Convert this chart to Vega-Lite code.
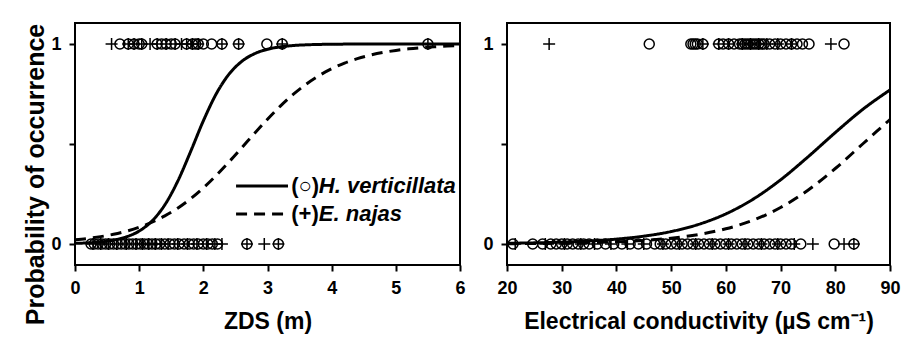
{
  "$schema": "https://vega.github.io/schema/vega-lite/v6.json",
  "padding": {"left": 22, "top": 22, "right": 10, "bottom": 2},
  "background": "white",
  "config": {
    "font": "Liberation Sans",
    "view": {"stroke": "black", "strokeWidth": 2},
    "concat": {"spacing": 14},
    "axis": {
      "domain": false, "grid": false,
      "tickColor": "black", "tickWidth": 2, "tickSize": 6,
      "labelFont": "Liberation Sans", "labelFontWeight": "bold", "labelFontSize": 18, "labelColor": "black",
      "labelPadding": 8, "labelFlush": false, "labelOverlap": false,
      "titleFont": "Liberation Sans", "titleFontWeight": "bold", "titleFontSize": 23, "titleColor": "black"
    }
  },
  "datasets": {
    "ptsL": [
      {"x": 0.70, "y": 1, "sp": "H"}, {"x": 0.83, "y": 1, "sp": "H"}, {"x": 0.92, "y": 1, "sp": "H"}, {"x": 1.00, "y": 1, "sp": "H"}, {"x": 1.04, "y": 1, "sp": "H"},
      {"x": 1.28, "y": 1, "sp": "H"}, {"x": 1.35, "y": 1, "sp": "H"}, {"x": 1.42, "y": 1, "sp": "H"}, {"x": 1.50, "y": 1, "sp": "H"}, {"x": 1.56, "y": 1, "sp": "H"},
      {"x": 1.74, "y": 1, "sp": "H"}, {"x": 1.83, "y": 1, "sp": "H"}, {"x": 1.88, "y": 1, "sp": "H"}, {"x": 1.92, "y": 1, "sp": "H"}, {"x": 2.00, "y": 1, "sp": "H"},
      {"x": 2.13, "y": 1, "sp": "H"}, {"x": 2.29, "y": 1, "sp": "H"}, {"x": 2.55, "y": 1, "sp": "H"}, {"x": 2.99, "y": 1, "sp": "H"}, {"x": 3.23, "y": 1, "sp": "H"}, {"x": 5.50, "y": 1, "sp": "H"},
      {"x": 0.57, "y": 1, "sp": "E"}, {"x": 0.83, "y": 1, "sp": "E"}, {"x": 0.92, "y": 1, "sp": "E"}, {"x": 1.04, "y": 1, "sp": "E"}, {"x": 1.17, "y": 1, "sp": "E"},
      {"x": 1.28, "y": 1, "sp": "E"}, {"x": 1.42, "y": 1, "sp": "E"}, {"x": 1.56, "y": 1, "sp": "E"}, {"x": 1.66, "y": 1, "sp": "E"}, {"x": 1.74, "y": 1, "sp": "E"},
      {"x": 1.83, "y": 1, "sp": "E"}, {"x": 1.92, "y": 1, "sp": "E"}, {"x": 2.29, "y": 1, "sp": "E"}, {"x": 2.55, "y": 1, "sp": "E"}, {"x": 3.23, "y": 1, "sp": "E"}, {"x": 5.50, "y": 1, "sp": "E"},
      {"x": 0.25, "y": 0, "sp": "H"}, {"x": 0.30, "y": 0, "sp": "H"}, {"x": 0.36, "y": 0, "sp": "H"}, {"x": 0.42, "y": 0, "sp": "H"}, {"x": 0.48, "y": 0, "sp": "H"},
      {"x": 0.54, "y": 0, "sp": "H"}, {"x": 0.60, "y": 0, "sp": "H"}, {"x": 0.66, "y": 0, "sp": "H"}, {"x": 0.72, "y": 0, "sp": "H"}, {"x": 0.78, "y": 0, "sp": "H"},
      {"x": 0.84, "y": 0, "sp": "H"}, {"x": 0.90, "y": 0, "sp": "H"}, {"x": 0.96, "y": 0, "sp": "H"}, {"x": 1.02, "y": 0, "sp": "H"}, {"x": 1.08, "y": 0, "sp": "H"},
      {"x": 1.14, "y": 0, "sp": "H"}, {"x": 1.20, "y": 0, "sp": "H"}, {"x": 1.26, "y": 0, "sp": "H"}, {"x": 1.32, "y": 0, "sp": "H"}, {"x": 1.40, "y": 0, "sp": "H"},
      {"x": 1.48, "y": 0, "sp": "H"}, {"x": 1.55, "y": 0, "sp": "H"}, {"x": 1.62, "y": 0, "sp": "H"}, {"x": 1.70, "y": 0, "sp": "H"}, {"x": 1.78, "y": 0, "sp": "H"},
      {"x": 1.85, "y": 0, "sp": "H"}, {"x": 1.92, "y": 0, "sp": "H"}, {"x": 2.00, "y": 0, "sp": "H"}, {"x": 2.07, "y": 0, "sp": "H"}, {"x": 2.14, "y": 0, "sp": "H"},
      {"x": 2.22, "y": 0, "sp": "H"}, {"x": 2.68, "y": 0, "sp": "H"}, {"x": 3.17, "y": 0, "sp": "H"},
      {"x": 0.28, "y": 0, "sp": "E"}, {"x": 0.40, "y": 0, "sp": "E"}, {"x": 0.52, "y": 0, "sp": "E"}, {"x": 0.65, "y": 0, "sp": "E"}, {"x": 0.80, "y": 0, "sp": "E"},
      {"x": 0.95, "y": 0, "sp": "E"}, {"x": 1.05, "y": 0, "sp": "E"}, {"x": 1.15, "y": 0, "sp": "E"}, {"x": 1.25, "y": 0, "sp": "E"}, {"x": 1.35, "y": 0, "sp": "E"},
      {"x": 1.45, "y": 0, "sp": "E"}, {"x": 1.60, "y": 0, "sp": "E"}, {"x": 1.75, "y": 0, "sp": "E"}, {"x": 1.90, "y": 0, "sp": "E"}, {"x": 2.05, "y": 0, "sp": "E"},
      {"x": 2.18, "y": 0, "sp": "E"}, {"x": 2.29, "y": 0, "sp": "E"}, {"x": 2.68, "y": 0, "sp": "E"}, {"x": 2.95, "y": 0, "sp": "E"}, {"x": 3.17, "y": 0, "sp": "E"}
    ],
    "ptsR": [
      {"x": 46.0, "y": 1, "sp": "H"}, {"x": 53.6, "y": 1, "sp": "H"}, {"x": 54.0, "y": 1, "sp": "H"}, {"x": 54.4, "y": 1, "sp": "H"}, {"x": 54.8, "y": 1, "sp": "H"},
      {"x": 55.8, "y": 1, "sp": "H"}, {"x": 58.7, "y": 1, "sp": "H"}, {"x": 59.5, "y": 1, "sp": "H"}, {"x": 60.5, "y": 1, "sp": "H"}, {"x": 61.5, "y": 1, "sp": "H"},
      {"x": 62.5, "y": 1, "sp": "H"}, {"x": 63.0, "y": 1, "sp": "H"}, {"x": 63.5, "y": 1, "sp": "H"}, {"x": 64.0, "y": 1, "sp": "H"}, {"x": 64.5, "y": 1, "sp": "H"},
      {"x": 65.0, "y": 1, "sp": "H"}, {"x": 65.5, "y": 1, "sp": "H"}, {"x": 66.0, "y": 1, "sp": "H"}, {"x": 66.5, "y": 1, "sp": "H"}, {"x": 67.0, "y": 1, "sp": "H"},
      {"x": 68.0, "y": 1, "sp": "H"}, {"x": 69.0, "y": 1, "sp": "H"}, {"x": 70.0, "y": 1, "sp": "H"}, {"x": 71.0, "y": 1, "sp": "H"}, {"x": 72.0, "y": 1, "sp": "H"},
      {"x": 73.0, "y": 1, "sp": "H"}, {"x": 74.0, "y": 1, "sp": "H"}, {"x": 75.2, "y": 1, "sp": "H"}, {"x": 81.6, "y": 1, "sp": "H"},
      {"x": 27.7, "y": 1, "sp": "E"}, {"x": 55.8, "y": 1, "sp": "E"}, {"x": 58.7, "y": 1, "sp": "E"}, {"x": 60.5, "y": 1, "sp": "E"}, {"x": 63.0, "y": 1, "sp": "E"},
      {"x": 64.5, "y": 1, "sp": "E"}, {"x": 66.0, "y": 1, "sp": "E"}, {"x": 67.5, "y": 1, "sp": "E"}, {"x": 69.5, "y": 1, "sp": "E"}, {"x": 72.0, "y": 1, "sp": "E"}, {"x": 79.2, "y": 1, "sp": "E"},
      {"x": 21.1, "y": 0, "sp": "H"}, {"x": 24.7, "y": 0, "sp": "H"}, {"x": 26.5, "y": 0, "sp": "H"}, {"x": 28.0, "y": 0, "sp": "H"}, {"x": 29.0, "y": 0, "sp": "H"},
      {"x": 30.0, "y": 0, "sp": "H"}, {"x": 31.0, "y": 0, "sp": "H"}, {"x": 32.0, "y": 0, "sp": "H"}, {"x": 33.0, "y": 0, "sp": "H"}, {"x": 34.0, "y": 0, "sp": "H"},
      {"x": 35.0, "y": 0, "sp": "H"}, {"x": 36.5, "y": 0, "sp": "H"}, {"x": 38.0, "y": 0, "sp": "H"}, {"x": 39.5, "y": 0, "sp": "H"}, {"x": 41.0, "y": 0, "sp": "H"},
      {"x": 42.5, "y": 0, "sp": "H"}, {"x": 44.0, "y": 0, "sp": "H"}, {"x": 45.5, "y": 0, "sp": "H"}, {"x": 47.0, "y": 0, "sp": "H"}, {"x": 48.0, "y": 0, "sp": "H"},
      {"x": 49.0, "y": 0, "sp": "H"}, {"x": 50.0, "y": 0, "sp": "H"}, {"x": 51.0, "y": 0, "sp": "H"}, {"x": 52.0, "y": 0, "sp": "H"}, {"x": 53.0, "y": 0, "sp": "H"},
      {"x": 54.0, "y": 0, "sp": "H"}, {"x": 55.0, "y": 0, "sp": "H"}, {"x": 56.0, "y": 0, "sp": "H"}, {"x": 57.0, "y": 0, "sp": "H"}, {"x": 58.0, "y": 0, "sp": "H"},
      {"x": 59.0, "y": 0, "sp": "H"}, {"x": 60.0, "y": 0, "sp": "H"}, {"x": 61.0, "y": 0, "sp": "H"}, {"x": 62.0, "y": 0, "sp": "H"}, {"x": 63.0, "y": 0, "sp": "H"},
      {"x": 64.0, "y": 0, "sp": "H"}, {"x": 65.0, "y": 0, "sp": "H"}, {"x": 66.0, "y": 0, "sp": "H"}, {"x": 67.0, "y": 0, "sp": "H"}, {"x": 68.0, "y": 0, "sp": "H"},
      {"x": 69.0, "y": 0, "sp": "H"}, {"x": 70.0, "y": 0, "sp": "H"}, {"x": 71.0, "y": 0, "sp": "H"}, {"x": 72.0, "y": 0, "sp": "H"}, {"x": 73.7, "y": 0, "sp": "H"},
      {"x": 79.8, "y": 0, "sp": "H"}, {"x": 83.4, "y": 0, "sp": "H"},
      {"x": 21.5, "y": 0, "sp": "E"}, {"x": 27.0, "y": 0, "sp": "E"}, {"x": 30.5, "y": 0, "sp": "E"}, {"x": 33.5, "y": 0, "sp": "E"}, {"x": 36.0, "y": 0, "sp": "E"},
      {"x": 39.0, "y": 0, "sp": "E"}, {"x": 42.0, "y": 0, "sp": "E"}, {"x": 45.0, "y": 0, "sp": "E"}, {"x": 48.5, "y": 0, "sp": "E"}, {"x": 51.5, "y": 0, "sp": "E"},
      {"x": 54.5, "y": 0, "sp": "E"}, {"x": 57.5, "y": 0, "sp": "E"}, {"x": 60.5, "y": 0, "sp": "E"}, {"x": 63.5, "y": 0, "sp": "E"}, {"x": 66.5, "y": 0, "sp": "E"},
      {"x": 69.5, "y": 0, "sp": "E"}, {"x": 72.5, "y": 0, "sp": "E"}, {"x": 75.9, "y": 0, "sp": "E"}, {"x": 81.6, "y": 0, "sp": "E"}, {"x": 83.4, "y": 0, "sp": "E"}
    ],
    "curveL": [
      {"x": 0.0, "p": 0.0030, "sp": "H"}, {"x": 0.2, "p": 0.0056, "sp": "H"}, {"x": 0.4, "p": 0.0104, "sp": "H"}, {"x": 0.6, "p": 0.0194, "sp": "H"},
      {"x": 0.8, "p": 0.0357, "sp": "H"}, {"x": 1.0, "p": 0.0648, "sp": "H"}, {"x": 1.2, "p": 0.1150, "sp": "H"}, {"x": 1.4, "p": 0.1958, "sp": "H"},
      {"x": 1.6, "p": 0.3133, "sp": "H"}, {"x": 1.8, "p": 0.4608, "sp": "H"}, {"x": 2.0, "p": 0.6157, "sp": "H"}, {"x": 2.2, "p": 0.7501, "sp": "H"},
      {"x": 2.4, "p": 0.8491, "sp": "H"}, {"x": 2.6, "p": 0.9133, "sp": "H"}, {"x": 2.8, "p": 0.9518, "sp": "H"}, {"x": 3.0, "p": 0.9737, "sp": "H"},
      {"x": 3.2, "p": 0.9858, "sp": "H"}, {"x": 3.4, "p": 0.9924, "sp": "H"}, {"x": 3.6, "p": 0.9959, "sp": "H"}, {"x": 3.8, "p": 0.9978, "sp": "H"},
      {"x": 4.0, "p": 0.9988, "sp": "H"}, {"x": 4.4, "p": 0.9997, "sp": "H"}, {"x": 5.0, "p": 0.9999, "sp": "H"}, {"x": 6.0, "p": 1.0, "sp": "H"},
      {"x": 0.0, "p": 0.0210, "sp": "E"}, {"x": 0.2, "p": 0.0278, "sp": "E"}, {"x": 0.4, "p": 0.0369, "sp": "E"}, {"x": 0.6, "p": 0.0487, "sp": "E"},
      {"x": 0.8, "p": 0.0640, "sp": "E"}, {"x": 1.0, "p": 0.0837, "sp": "E"}, {"x": 1.2, "p": 0.1089, "sp": "E"}, {"x": 1.4, "p": 0.1403, "sp": "E"},
      {"x": 1.6, "p": 0.1791, "sp": "E"}, {"x": 1.8, "p": 0.2257, "sp": "E"}, {"x": 2.0, "p": 0.2804, "sp": "E"}, {"x": 2.2, "p": 0.3425, "sp": "E"},
      {"x": 2.4, "p": 0.4104, "sp": "E"}, {"x": 2.6, "p": 0.4819, "sp": "E"}, {"x": 2.8, "p": 0.5542, "sp": "E"}, {"x": 3.0, "p": 0.6242, "sp": "E"},
      {"x": 3.2, "p": 0.6894, "sp": "E"}, {"x": 3.4, "p": 0.7479, "sp": "E"}, {"x": 3.6, "p": 0.7986, "sp": "E"}, {"x": 3.8, "p": 0.8412, "sp": "E"},
      {"x": 4.0, "p": 0.8763, "sp": "E"}, {"x": 4.2, "p": 0.9044, "sp": "E"}, {"x": 4.4, "p": 0.9267, "sp": "E"}, {"x": 4.6, "p": 0.9441, "sp": "E"},
      {"x": 4.8, "p": 0.9576, "sp": "E"}, {"x": 5.0, "p": 0.9679, "sp": "E"}, {"x": 5.2, "p": 0.9758, "sp": "E"}, {"x": 5.4, "p": 0.9818, "sp": "E"},
      {"x": 5.6, "p": 0.9863, "sp": "E"}, {"x": 5.8, "p": 0.9897, "sp": "E"}, {"x": 6.0, "p": 0.9923, "sp": "E"}
    ],
    "curveR": [
      {"x": 20, "p": 0.0035, "sp": "H"}, {"x": 25, "p": 0.0057, "sp": "H"}, {"x": 30, "p": 0.0093, "sp": "H"}, {"x": 35, "p": 0.0151, "sp": "H"},
      {"x": 40, "p": 0.0244, "sp": "H"}, {"x": 45, "p": 0.0392, "sp": "H"}, {"x": 50, "p": 0.0624, "sp": "H"}, {"x": 55, "p": 0.0980, "sp": "H"},
      {"x": 60, "p": 0.1506, "sp": "H"}, {"x": 65, "p": 0.2244, "sp": "H"}, {"x": 70, "p": 0.3208, "sp": "H"}, {"x": 75, "p": 0.4354, "sp": "H"},
      {"x": 80, "p": 0.5572, "sp": "H"}, {"x": 85, "p": 0.6726, "sp": "H"}, {"x": 90, "p": 0.7703, "sp": "H"},
      {"x": 20, "p": 0.0015, "sp": "E"}, {"x": 25, "p": 0.0025, "sp": "E"}, {"x": 30, "p": 0.0041, "sp": "E"}, {"x": 35, "p": 0.0067, "sp": "E"},
      {"x": 40, "p": 0.0110, "sp": "E"}, {"x": 45, "p": 0.0180, "sp": "E"}, {"x": 50, "p": 0.0293, "sp": "E"}, {"x": 55, "p": 0.0474, "sp": "E"},
      {"x": 60, "p": 0.0759, "sp": "E"}, {"x": 65, "p": 0.1192, "sp": "E"}, {"x": 70, "p": 0.1824, "sp": "E"}, {"x": 75, "p": 0.2689, "sp": "E"},
      {"x": 80, "p": 0.3775, "sp": "E"}, {"x": 85, "p": 0.5000, "sp": "E"}, {"x": 90, "p": 0.6225, "sp": "E"}
    ],
    "legLine": [
      {"x": 2.51, "x2": 3.32, "p": 0.29, "sp": "H"},
      {"x": 2.51, "x2": 3.32, "p": 0.15, "sp": "E"}
    ],
    "legSym": [
      {"x": 3.37, "p": 0.29, "t": "(○)"},
      {"x": 3.37, "p": 0.15, "t": "(+)"}
    ],
    "legName": [
      {"x": 3.80, "p": 0.29, "t": "H. verticillata"},
      {"x": 3.80, "p": 0.15, "t": "E. najas"}
    ]
  },
  "hconcat": [
    {
      "width": 385,
      "height": 242,
      "layer": [
        {
          "data": {"name": "curveL"},
          "mark": {"type": "line", "color": "black", "strokeWidth": 3, "interpolate": "monotone"},
          "encoding": {
            "x": {"field": "x", "type": "quantitative", "scale": {"domain": [0, 6], "nice": false, "zero": false},
                  "axis": {"title": "ZDS (m)", "values": [0, 1, 2, 3, 4, 5, 6], "format": "d", "titlePadding": 13}},
            "y": {"field": "p", "type": "quantitative", "scale": {"domain": [-0.105, 1.105], "nice": false, "zero": false},
                  "axis": {"title": "Probability of occurrence", "titleFontSize": 25, "titlePadding": 2, "titleY": 151,
                           "values": [0, 0.5, 1], "labelExpr": "datum.value == 0.5 ? '' : format(datum.value, 'd')"}},
            "strokeDash": {"field": "sp", "type": "nominal", "scale": {"domain": ["H", "E"], "range": [[1, 0], [11, 7]]}, "legend": null}
          }
        },
        {
          "data": {"name": "ptsL"},
          "mark": {"type": "point", "filled": false, "color": "black", "strokeWidth": 1.5, "opacity": 1},
          "encoding": {
            "x": {"field": "x", "type": "quantitative"},
            "y": {"field": "y", "type": "quantitative"},
            "shape": {"field": "sp", "type": "nominal", "scale": {"domain": ["H", "E"], "range": ["circle", "M-1,0L1,0M0,-1L0,1"]}, "legend": null},
            "size": {"field": "sp", "type": "nominal", "scale": {"domain": ["H", "E"], "range": [100, 144]}, "legend": null}
          }
        },
        {
          "data": {"name": "legLine"},
          "mark": {"type": "rule", "color": "black", "strokeWidth": 3},
          "encoding": {
            "x": {"field": "x", "type": "quantitative"},
            "x2": {"field": "x2"},
            "y": {"field": "p", "type": "quantitative"},
            "strokeDash": {"field": "sp", "type": "nominal", "legend": null}
          }
        },
        {
          "data": {"name": "legSym"},
          "mark": {"type": "text", "align": "left", "baseline": "middle", "font": "Liberation Sans", "fontSize": 22, "fontWeight": "bold", "color": "black"},
          "encoding": {
            "x": {"field": "x", "type": "quantitative"},
            "y": {"field": "p", "type": "quantitative"},
            "text": {"field": "t"}
          }
        },
        {
          "data": {"name": "legName"},
          "mark": {"type": "text", "align": "left", "baseline": "middle", "font": "Liberation Sans", "fontSize": 22, "fontWeight": "bold", "fontStyle": "italic", "color": "black"},
          "encoding": {
            "x": {"field": "x", "type": "quantitative"},
            "y": {"field": "p", "type": "quantitative"},
            "text": {"field": "t"}
          }
        }
      ]
    },
    {
      "width": 383,
      "height": 242,
      "layer": [
        {
          "data": {"name": "curveR"},
          "mark": {"type": "line", "color": "black", "strokeWidth": 3, "interpolate": "monotone"},
          "encoding": {
            "x": {"field": "x", "type": "quantitative", "scale": {"domain": [20, 90], "nice": false, "zero": false},
                  "axis": {"title": "Electrical conductivity (µS cm⁻¹)", "values": [20, 30, 40, 50, 60, 70, 80, 90], "format": "d", "titlePadding": 13}},
            "y": {"field": "p", "type": "quantitative", "scale": {"domain": [-0.105, 1.105], "nice": false, "zero": false},
                  "axis": {"title": null, "values": [0, 0.5, 1], "labelExpr": "datum.value == 0.5 ? '' : format(datum.value, 'd')"}},
            "strokeDash": {"field": "sp", "type": "nominal", "scale": {"domain": ["H", "E"], "range": [[1, 0], [11, 7]]}, "legend": null}
          }
        },
        {
          "data": {"name": "ptsR"},
          "mark": {"type": "point", "filled": false, "color": "black", "strokeWidth": 1.5, "opacity": 1},
          "encoding": {
            "x": {"field": "x", "type": "quantitative"},
            "y": {"field": "y", "type": "quantitative"},
            "shape": {"field": "sp", "type": "nominal", "scale": {"domain": ["H", "E"], "range": ["circle", "M-1,0L1,0M0,-1L0,1"]}, "legend": null},
            "size": {"field": "sp", "type": "nominal", "scale": {"domain": ["H", "E"], "range": [100, 144]}, "legend": null}
          }
        }
      ]
    }
  ]
}
